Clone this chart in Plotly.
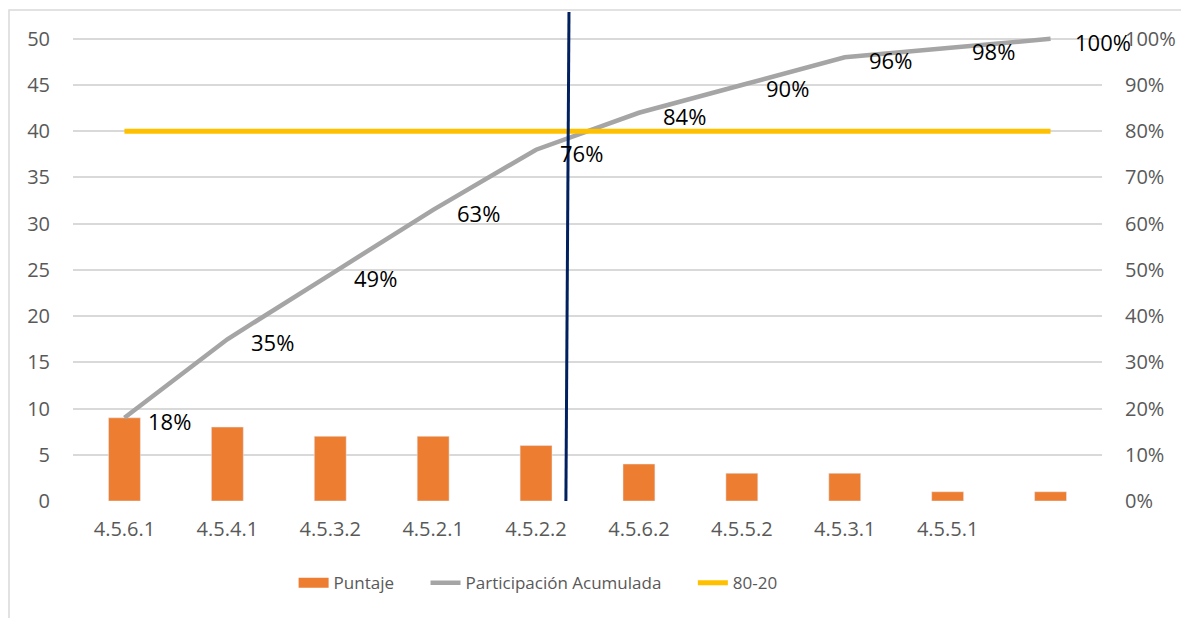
import plotly.graph_objects as go

categories = ["4.5.6.1", "4.5.4.1", "4.5.3.2", "4.5.2.1", "4.5.2.2",
              "4.5.6.2", "4.5.5.2", "4.5.3.1", "4.5.5.1", ""]
puntaje = [9, 8, 7, 7, 6, 4, 3, 3, 1, 1]
acumulada = [0.18, 0.35, 0.49, 0.63, 0.76, 0.84, 0.90, 0.96, 0.98, 1.00]
acumulada_labels = ["18%", "35%", "49%", "63%", "76%", "84%", "90%", "96%", "98%", "100%"]
linea_80_20 = [0.80] * 10
left_ticks = [0, 5, 10, 15, 20, 25, 30, 35, 40, 45, 50]
right_ticks = [0, 0.1, 0.2, 0.3, 0.4, 0.5, 0.6, 0.7, 0.8, 0.9, 1.0]
right_ticktext = ["0%", "10%", "20%", "30%", "40%", "50%", "60%", "70%", "80%", "90%", "100%"]

xpos = list(range(len(categories)))
FONT = "Open Sans"
GRAY = "#595959"
NB = "\u00a0"

fig = go.Figure()
fig.add_trace(go.Bar(x=xpos, y=puntaje, name="Puntaje", marker_color="#ED7D31",
                     width=0.31, yaxis="y", showlegend=False))
fig.add_trace(go.Scatter(x=xpos, y=acumulada, name="Participación Acumulada", mode="lines",
                         line=dict(color="#A5A5A5", width=4.5), yaxis="y2", showlegend=False))
fig.add_trace(go.Scatter(x=xpos, y=linea_80_20, name="80-20", mode="lines",
                         line=dict(color="#FFC000", width=5), yaxis="y2", showlegend=False))
# legend entries
fig.add_trace(go.Scatter(x=[None], y=[None], name="Puntaje" + NB * 6, mode="lines",
                         line=dict(color="#ED7D31", width=14), yaxis="y"))
fig.add_trace(go.Scatter(x=[None], y=[None], name="Participación Acumulada" + NB * 6, mode="lines",
                         line=dict(color="#A5A5A5", width=4.5), yaxis="y2"))
fig.add_trace(go.Scatter(x=[None], y=[None], name="80-20", mode="lines",
                         line=dict(color="#FFC000", width=5), yaxis="y2"))

annotations = [
    dict(x=xv, y=yv, xref="x", yref="y2", text=t, showarrow=False, xanchor="left",
         yanchor="middle", xshift=22, yshift=-3, font=dict(color="black", size=22, family=FONT))
    for xv, yv, t in zip(xpos, acumulada, acumulada_labels)
]

ymax = 52.9
fig.update_layout(
    width=1181, height=610,
    margin=dict(l=65, r=87, t=4, b=117),
    paper_bgcolor="white", plot_bgcolor="white",
    font=dict(family=FONT, size=20, color=GRAY),
    showlegend=True,
    legend=dict(orientation="h", x=0.452, xanchor="center", y=-0.168, yanchor="middle",
                font=dict(size=17, color=GRAY), traceorder="normal"),
    xaxis=dict(range=[-0.5, len(categories) - 0.5], tickvals=xpos, ticktext=categories,
               showgrid=False, zeroline=False, showline=False, ticks="", ticklabelstandoff=14,
               tickfont=dict(size=20, color=GRAY)),
    yaxis=dict(range=[0, ymax], tickvals=left_ticks, showgrid=True, gridcolor="#D9D9D9",
               gridwidth=1.5, zeroline=False, showline=False, ticks="", ticklabelstandoff=22,
               tickfont=dict(size=20, color=GRAY)),
    yaxis2=dict(range=[0, ymax / 50], overlaying="y", side="right", tickvals=right_ticks,
                ticktext=right_ticktext, showgrid=False, zeroline=False, showline=False,
                ticks="", ticklabelstandoff=22, tickfont=dict(size=20, color=GRAY)),
    annotations=annotations,
    shapes=[
        dict(type="line", xref="x", yref="y", x0=4.29, x1=4.32, y0=0, y1=ymax,
             line=dict(color="#002060", width=3), layer="above"),
        dict(type="rect", xref="paper", yref="paper", x0=-0.0622, x1=1.3, y0=-0.4, y1=1.0041,
             line=dict(color="#D9D9D9", width=1.5), layer="below"),
    ],
)

fig.write_html("out.html")
